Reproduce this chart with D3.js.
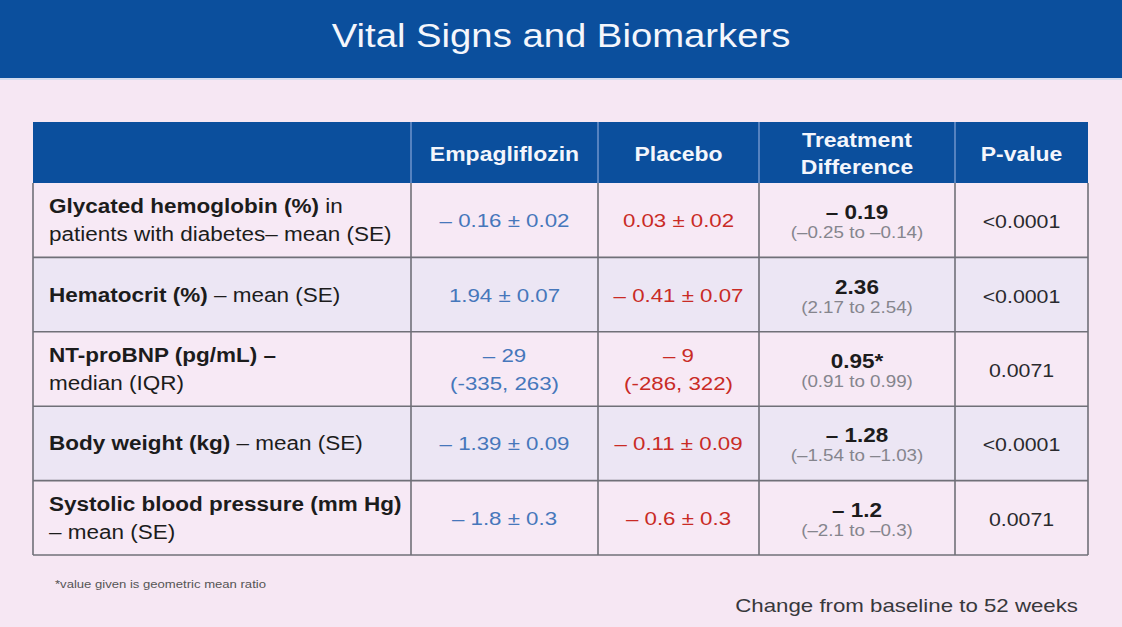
<!DOCTYPE html>
<html><head><meta charset="utf-8">
<script src="https://cdn.jsdelivr.net/npm/d3@7/dist/d3.min.js"></script>
<style>
html,body{margin:0;padding:0;background:#f6e7f3;}
svg{display:block;font-family:"Liberation Sans",Arial,sans-serif;}
</style></head>
<body><svg id="c" width="1122" height="627"></svg>
<script>
const title = "Vital Signs and Biomarkers";
const columns = ["", "Empagliflozin", "Placebo", "Treatment\nDifference", "P-value"];
// row labels: array of lines, each line = [boldPart, regularPart]
const rowLabels = [
  [["Glycated hemoglobin (%)", " in"], ["", "patients with diabetes– mean (SE)"]],
  [["Hematocrit (%)", " – mean (SE)"]],
  [["NT-proBNP (pg/mL) –", ""], ["", "median (IQR)"]],
  [["Body weight (kg)", " – mean (SE)"]],
  [["Systolic blood pressure (mm Hg)", ""], ["", "– mean (SE)"]]
];
const empagliflozin = [["– 0.16 ± 0.02"], ["1.94 ± 0.07"], ["– 29", "(-335, 263)"], ["– 1.39 ± 0.09"], ["– 1.8 ± 0.3"]];
const placebo = [["0.03 ± 0.02"], ["– 0.41 ± 0.07"], ["– 9", "(-286, 322)"], ["– 0.11 ± 0.09"], ["– 0.6 ± 0.3"]];
const treatmentDiff = ["– 0.19", "2.36", "0.95*", "– 1.28", "– 1.2"];
const treatmentCI = ["(–0.25 to –0.14)", "(2.17 to 2.54)", "(0.91 to 0.99)", "(–1.54 to –1.03)", "(–2.1 to –0.3)"];
const pValues = ["<0.0001", "<0.0001", "0.0071", "<0.0001", "0.0071"];
const footnote = "*value given is geometric mean ratio";
const caption = "Change from baseline to 52 weeks";

const svg = d3.select("#c");
const W = 1122, H = 627;
const SX = 1.16; // horizontal stretch of the source slide
const colEdges = [33, 411, 598, 759, 955, 1088];
const headTop = 122, headBottom = 183, tableBottom = 555;

// helper: stretched text group at (x,y)
function T(parent, x, y, anchor) {
  return parent.append("g").attr("transform", `translate(${x},${y}) scale(${SX},1)`)
    .append("text").attr("text-anchor", anchor || "start");
}

svg.append("rect").attr("width", W).attr("height", H).attr("fill", "#f6e7f3");
// title bar
svg.append("rect").attr("x", 0).attr("y", 0).attr("width", W).attr("height", 78).attr("fill", "#0b4f9d");
svg.append("rect").attr("x", 0).attr("y", 78).attr("width", W).attr("height", 2).attr("fill", "#d3dbee");
T(svg, W / 2, 47, "middle").attr("fill", "#f4f6fc").attr("font-size", 33).text(title);

const y = d3.scaleBand().domain(d3.range(rowLabels.length)).range([headBottom, tableBottom]).padding(0);
const cx = i => (colEdges[i] + colEdges[i + 1]) / 2;
const rowMid = i => y(i) + y.bandwidth() / 2;

// header
svg.append("rect").attr("x", colEdges[0]).attr("y", headTop).attr("width", colEdges[5] - colEdges[0])
  .attr("height", headBottom - headTop).attr("fill", "#0b4f9d");
const hdr = svg.append("g");
columns.forEach((c, i) => {
  if (!c) return;
  const lines = c.split("\n");
  const t = T(hdr, cx(i), 0, "middle").attr("fill", "#f4f6fc").attr("font-weight", "bold").attr("font-size", 19.8);
  lines.forEach((l, k) => {
    t.append("tspan").attr("x", 0).attr("y", 161 + (k - (lines.length - 1) / 2) * 27).text(l);
  });
});

// rows background
svg.append("g").selectAll("rect").data(rowLabels).join("rect")
  .attr("x", colEdges[0]).attr("y", (d, i) => y(i)).attr("width", colEdges[5] - colEdges[0])
  .attr("height", y.bandwidth()).attr("fill", (d, i) => i % 2 ? "#ece6f4" : "#f7e9f5");

// grid lines
const grid = svg.append("g").attr("stroke", "#707078").attr("stroke-width", 1.6);
grid.selectAll("line.h").data(d3.range(1, rowLabels.length + 1)).join("line").attr("class", "h")
  .attr("x1", colEdges[0]).attr("x2", colEdges[5])
  .attr("y1", i => i === rowLabels.length ? tableBottom : y(i)).attr("y2", i => i === rowLabels.length ? tableBottom : y(i));
grid.selectAll("line.v").data(colEdges).join("line").attr("class", "v")
  .attr("x1", d => d).attr("x2", d => d).attr("y1", headBottom).attr("y2", tableBottom);
svg.append("g").attr("stroke", "#6f93cc").attr("stroke-width", 1.5).selectAll("line").data(colEdges.slice(1, 5)).join("line")
  .attr("x1", d => d).attr("x2", d => d).attr("y1", headTop).attr("y2", headBottom);

// row labels
const lbl = svg.append("g");
rowLabels.forEach((lines, i) => {
  const t = T(lbl, 49, 0).attr("font-size", 19.4).attr("fill", "#1c1c1c");
  lines.forEach((ln, k) => {
    const yy = rowMid(i) + 7 + (k - (lines.length - 1) / 2) * 28;
    const b = t.append("tspan").attr("x", 0).attr("y", yy).attr("font-weight", "bold").text(ln[0]);
    if (ln[1]) {
      const ts = t.append("tspan").text(ln[1]);
      if (!ln[0]) ts.attr("x", 0).attr("y", yy);
    }
  });
});

function valueCol(data, col, color) {
  const g = svg.append("g");
  data.forEach((lines, i) => {
    const t = T(g, cx(col), 0, "middle").attr("font-size", 19.2).attr("fill", color);
    lines.forEach((l, k) => {
      t.append("tspan").attr("x", 0).attr("y", rowMid(i) + 7 + (k - (lines.length - 1) / 2) * 27).text(l);
    });
  });
}
valueCol(empagliflozin, 1, "#4677bb");
valueCol(placebo, 2, "#c92b25");

// treatment diff
const td = svg.append("g");
treatmentDiff.forEach((d, i) => {
  T(td, cx(3), rowMid(i) - 1, "middle").attr("font-size", 19.4).attr("font-weight", "bold").attr("fill", "#1c1c1c").text(d);
  T(td, cx(3), rowMid(i) + 18, "middle").attr("font-size", 16.2).attr("fill", "#85858d").text(treatmentCI[i]);
});
// p-values
const pv = svg.append("g");
pValues.forEach((d, i) => {
  T(pv, cx(4), rowMid(i) + 8, "middle").attr("font-size", 18.4).attr("fill", "#2a2a2e").text(d);
});

T(svg, 55, 588).attr("font-size", 11.3).attr("fill", "#555").text(footnote);
T(svg, 1078, 612, "end").attr("font-size", 19.2).attr("fill", "#38383c").text(caption);
</script></body></html>
